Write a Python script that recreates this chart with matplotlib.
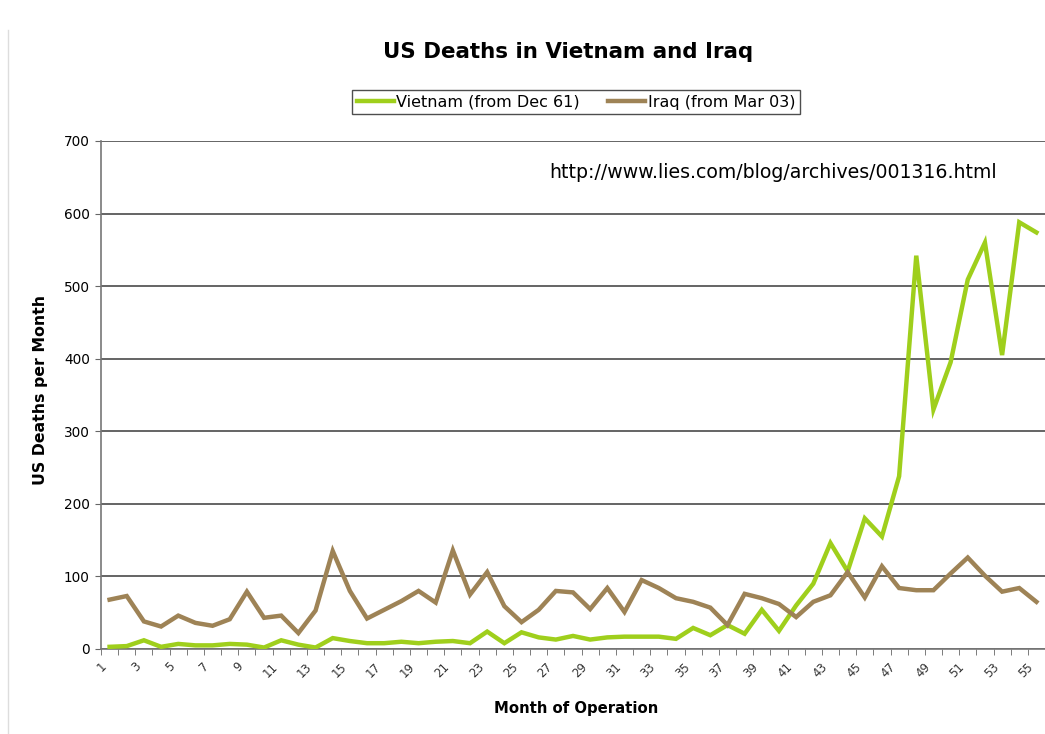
import numpy as np
import matplotlib
matplotlib.use("Agg")
import matplotlib.pyplot as plt
import matplotlib.transforms as mtransforms
from matplotlib.lines import Line2D

# US deaths per month
months = list(range(1, 56))
vietnam = [3, 4, 12, 3, 7, 5, 5, 7, 6, 2,
           12, 6, 2, 15, 11, 8, 8, 10, 8, 10,
           11, 8, 24, 8, 23, 16, 13, 18, 13, 16,
           17, 17, 17, 14, 29, 19, 33, 21, 54, 25,
           60, 90, 146, 107, 180, 155, 238, 542, 330, 395,
           509, 560, 405, 588, 574]
iraq = [68, 73, 38, 31, 46, 36, 32, 41, 79, 43,
        46, 22, 53, 135, 80, 42, 54, 66, 80, 64,
        136, 75, 106, 59, 37, 54, 80, 78, 55, 84,
        51, 95, 84, 70, 65, 57, 33, 76, 70, 62,
        44, 65, 74, 106, 71, 114, 84, 81, 81, 104,
        126, 101, 79, 84, 65]
tick_labels = [str(m) for m in months if m % 2 == 1]

W, H = 1045, 734
fig = plt.figure(figsize=(W / 100, H / 100), dpi=100)
ax = fig.add_axes([101 / W, 1 - 649 / H, (W - 101) / W, (649 - 141) / H])

ax.plot(months, vietnam, color="#9fcf1c", lw=3.2, solid_joinstyle="miter",
        label="Vietnam (from Dec 61)", zorder=3)
ax.plot(months, iraq, color="#9e8356", lw=3.2, solid_joinstyle="miter",
        label="Iraq (from Mar 03)", zorder=3)

ax.set_xlim(0.5, 55.22)
ax.set_ylim(0, 700)
ax.set_yticks(range(0, 701, 100))
ax.yaxis.grid(True, color="#3a3a3a", lw=1.1)
ax.set_axisbelow(True)

odd = [m for m in months if m % 2 == 1]
ax.set_xticks(odd)
ax.set_xticklabels(tick_labels, rotation=45, ha="right", rotation_mode="anchor",
                   fontsize=8.5, color="#333333")
ax.set_xticks(np.arange(0.5, 56, 1.0), minor=True)
ax.tick_params(axis="x", which="major", length=0, pad=8)
ax.tick_params(axis="x", which="minor", length=4, color="#666666")
ax.tick_params(axis="y", length=4, color="#666666", labelsize=9.8, pad=4)

# nudge the rotated month labels left so they sit under their month
shift = mtransforms.ScaledTranslation(-10 / 100, 0, fig.dpi_scale_trans)
for lab in ax.xaxis.get_majorticklabels():
    lab.set_transform(lab.get_transform() + shift)

for s in ["top", "right"]:
    ax.spines[s].set_visible(False)
for s in ["left", "bottom"]:
    ax.spines[s].set_color("#777777")
    ax.spines[s].set_linewidth(1.2)

ax.set_xlabel("Month of Operation", fontsize=10.7, fontweight="bold")
ax.set_ylabel("US Deaths per Month", fontsize=11.3, fontweight="bold")
ax.xaxis.set_label_coords((576 - 101) / (W - 101), -(708 - 649) / (649 - 141))
ax.yaxis.set_label_coords(-(101 - 40) / (W - 101), (649 - 390) / (649 - 141))
ax.xaxis.label.set_va("center")
ax.yaxis.label.set_va("center")

ax.text(549, H - 173, "http://www.lies.com/blog/archives/001316.html",
        transform=None, fontsize=13.6, va="center", ha="left")

fig.text(568 / W, 1 - 52 / H, "US Deaths in Vietnam and Iraq",
         ha="center", va="center", fontsize=15.4, fontweight="bold")

leg = fig.legend(loc="center", bbox_to_anchor=(576 / W, 1 - 102 / H), ncol=2,
                 fontsize=11.5, frameon=True, fancybox=False, edgecolor="#222222",
                 handlelength=2.3, handletextpad=0.15, columnspacing=1.8,
                 borderpad=0.3, borderaxespad=0)
leg.get_frame().set_linewidth(1.0)

# thin page border on the left of the screenshot
fig.add_artist(Line2D([8 / W, 8 / W], [0, 1 - 30 / H], color="#dddddd", lw=1))

fig.savefig("out.png", dpi=100)
